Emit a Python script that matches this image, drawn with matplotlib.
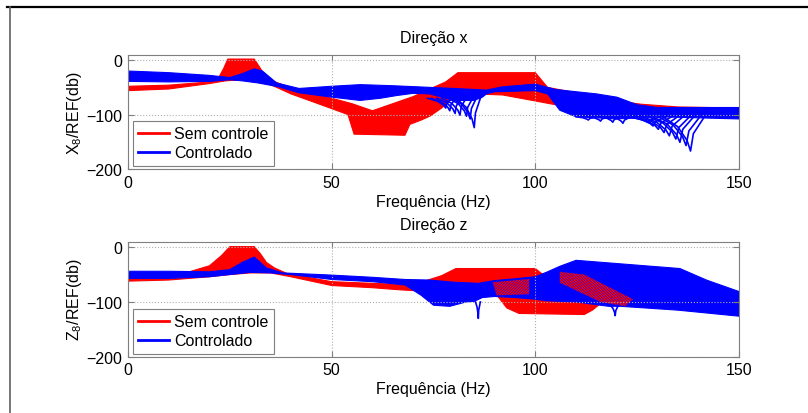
import numpy as np
import matplotlib.pyplot as plt
from matplotlib.lines import Line2D

plt.rcParams['font.family'] = ['Liberation Sans', 'DejaVu Sans']
plt.rcParams['mathtext.fontset'] = 'custom'
plt.rcParams['mathtext.rm'] = 'Liberation Sans'
plt.rcParams['mathtext.it'] = 'Liberation Sans'
plt.rcParams['hatch.linewidth'] = 1.0

# ---- Direcao x : envelopes of the curve families (Hz, dB) ----
x_red_hi_f = [0, 10, 20, 22, 23.5, 24.5, 31, 32.5, 34, 40, 50, 55, 60, 65, 70, 73, 75, 78, 81, 100, 101, 103, 110, 120, 126, 135, 150]
x_red_hi = [-48, -46, -40, -36, -15, 2, 2, -15, -34, -51, -70, -80, -93, -80, -67, -57, -50, -40, -23, -23, -32, -50, -60, -75, -81, -86, -88]
x_red_lo_f = [0, 10, 20, 24, 28, 31, 35, 40, 50, 54, 55.5, 62, 68, 69.2, 72, 74.1, 77, 80, 85, 92, 100, 105, 110, 126, 150]
x_red_lo = [-56, -53, -43, -38, -36, -38, -45, -62, -89, -100, -136, -137, -138, -118, -110, -103, -88, -68, -62, -64, -75, -82, -86, -93, -97]

x_blue_hi_f = [0, 10, 20, 25, 28, 31, 33, 36.5, 42, 50, 57, 65, 74, 80, 88, 92, 100, 105, 110, 115, 120, 125, 130, 150]
x_blue_hi = [-20, -23, -28, -32, -25, -16, -20, -42, -52, -48, -45, -47, -50, -52, -55, -49, -44, -54, -58, -62, -68, -82, -87, -87]
x_blue_lo_f = [0, 10, 20, 25, 28, 32, 37, 42, 50, 57, 62, 66, 70, 74, 76, 80, 85, 87, 88, 90, 95, 100, 103, 106, 110, 115, 120, 125, 130, 140, 150]
x_blue_lo = [-39, -40, -39, -36, -38, -42, -49, -60, -68, -74, -70, -65, -61, -62, -66, -74, -74, -68, -62, -58, -57, -56, -62, -92, -104, -106, -108, -106, -104, -106, -108]

# notch tips of the controlled curves (Hz, dB)
x_notch1_f = [78.0, 79.0, 80.3, 81.5, 83.1, 84.0, 85.0]
x_notch1_db = [-88, -93, -98, -101, -103, -108, -124]
x_notch2_f = [113, 116, 119, 121.5]
x_notch2_db = [-110, -112, -114, -116]
x_notch3_f = [127.8, 128.9, 130.2, 131.6, 132.9, 134.5, 135.5, 137.0, 138.1]
x_notch3_db = [-115, -121, -127, -133, -139, -145, -151, -157, -167]

# ---- Direcao z ----
z_red_hi_f = [0, 10, 15, 20, 23, 25, 31, 32.5, 34, 36, 39, 50, 60, 67, 72, 74.5, 77, 80.5, 100, 101.5, 105, 110, 116, 125, 150]
z_red_hi = [-53, -50, -45, -34, -15, 1, 1, -12, -28, -38, -48, -63, -66, -68, -64, -58, -52, -39, -39, -48, -52, -58, -68, -82, -88]
z_red_lo_f = [0, 10, 20, 25, 30, 35, 40, 50, 60, 67, 72, 76, 80, 85, 88, 90.5, 93, 96, 112, 114, 116, 120, 135, 150]
z_red_lo = [-62, -60, -54, -50, -47, -47, -54, -70, -74, -78, -80, -80, -75, -72, -74, -87, -111, -121, -123, -115, -103, -100, -102, -105]

z_blue_hi_f = [0, 10, 20, 25, 28, 31, 34, 38, 50, 60, 68, 74, 80, 86, 90, 96, 100, 103, 106, 110, 135.5, 142, 150]
z_blue_hi = [-44, -44, -45, -41, -28, -18, -38, -47, -51, -55, -59, -60, -64, -66, -61, -57, -54, -45, -35, -24, -39, -60, -81]
z_blue_lo_f = [0, 10, 20, 25, 30, 35, 40, 50, 60, 68, 72, 75, 79, 83, 85, 87, 90, 95, 100, 103, 110, 118, 121, 135, 150]
z_blue_lo = [-57, -57, -54, -50, -46, -47, -50, -59, -63, -69, -88, -106, -108, -100, -99, -92, -90, -92, -95, -98, -100, -108, -108, -115, -126]

z_notch_f = [86.0, 119.6]
z_notch_db = [-130, -125]

# places where uncontrolled curves show between the controlled ones (z)
z_stripe1_f = [89.5, 98.5, 98.5, 90.5]
z_stripe1_db = [-64, -58, -86, -88]
z_stripe2_f = [106, 112, 124, 122, 116, 106]
z_stripe2_db = [-45, -50, -95, -108, -100, -65]

RED = '#ff0000'
BLUE = '#0000ff'


def band(ax, f_hi, hi, f_lo, lo, color):
    xs = np.concatenate([f_hi, f_lo[::-1]])
    ys = np.concatenate([hi, lo[::-1]])
    ax.fill(xs, ys, color=color, lw=0.8)


def stripes(ax, f, db, hatch):
    ax.fill(f, db, facecolor='none', edgecolor=RED, hatch=hatch, lw=0)


def notches(ax, tips_f, tips_db, base, left, right, color):
    for f, d in zip(tips_f, tips_db):
        depth = d - base
        xs = [f - left, f - 0.45 * left, f - 0.12 * left, f, f + 0.2 * right, f + right]
        ys = [base, base + 0.3 * depth, base + 0.7 * depth, d, base + 0.5 * depth, base]
        ax.plot(xs, ys, color=color, lw=1.2)


def style(ax, title, ylabel):
    ax.set_xlim(0, 150)
    ax.set_ylim(-200, 10)
    ax.set_xticks([0, 50, 100, 150])
    ax.set_yticks([-200, -100, 0])
    ax.grid(True, ls=':', color='#b0b0b0', lw=0.8)
    for s in ax.spines.values():
        s.set_color('#7f7f7f')
    ax.tick_params(direction='in', top=True, right=True, length=4, color='#7f7f7f',
                   labelsize=11.5, pad=4)
    ax.set_title(title, fontsize=11.5, pad=9)
    ax.set_xlabel('Frequência (Hz)', fontsize=11.5, labelpad=3)
    ax.set_ylabel(ylabel, fontsize=11.5, labelpad=2)
    handles = [Line2D([], [], color=RED, lw=2), Line2D([], [], color=BLUE, lw=2)]
    leg = ax.legend(handles, ['Sem controle', 'Controlado'], loc='lower left',
                    bbox_to_anchor=(0.008, 0.026), borderaxespad=0, fancybox=False,
                    edgecolor='#7f7f7f', framealpha=1, fontsize=11.5, handlelength=1.9,
                    handletextpad=0.35, borderpad=0.35, labelspacing=0.25)
    leg.get_frame().set_linewidth(0.8)


fig = plt.figure(figsize=(8.08, 4.14), dpi=100)
ax1 = fig.add_axes([128 / 808, 1 - 170 / 414, 611 / 808, 114.3 / 414])
ax2 = fig.add_axes([128 / 808, 1 - 357.7 / 414, 611 / 808, 115 / 414])

band(ax1, x_red_hi_f, x_red_hi, x_red_lo_f, x_red_lo, RED)
band(ax1, x_blue_hi_f, x_blue_hi, x_blue_lo_f, x_blue_lo, BLUE)
notches(ax1, x_notch1_f, x_notch1_db, -70, 4.5, 1.5, BLUE)
notches(ax1, x_notch2_f, x_notch2_db, -104, 3, 2, BLUE)
notches(ax1, x_notch3_f, x_notch3_db, -103, 7, 3.5, BLUE)
style(ax1, 'Direção x', 'X$_8$/REF(db)')

band(ax2, z_red_hi_f, z_red_hi, z_red_lo_f, z_red_lo, RED)
band(ax2, z_blue_hi_f, z_blue_hi, z_blue_lo_f, z_blue_lo, BLUE)
stripes(ax2, z_stripe1_f, z_stripe1_db, '/' * 12)
stripes(ax2, z_stripe2_f, z_stripe2_db, '\\' * 12)
notches(ax2, z_notch_f[:1], z_notch_db[:1], -100, 0.7, 0.5, BLUE)
notches(ax2, z_notch_f[1:], z_notch_db[1:], -106, 1.2, 0.8, BLUE)
style(ax2, 'Direção z', 'Z$_8$/REF(db)')

# outer frame of the figure window
fig.add_artist(Line2D([7 / 808, 1], [1 - 7.5 / 414, 1 - 7.5 / 414], color='black', lw=1.6))
fig.add_artist(Line2D([9.5 / 808, 9.5 / 808], [0, 1 - 7.5 / 414], color='#606060', lw=1.2))

fig.savefig('out.png', dpi=100)
